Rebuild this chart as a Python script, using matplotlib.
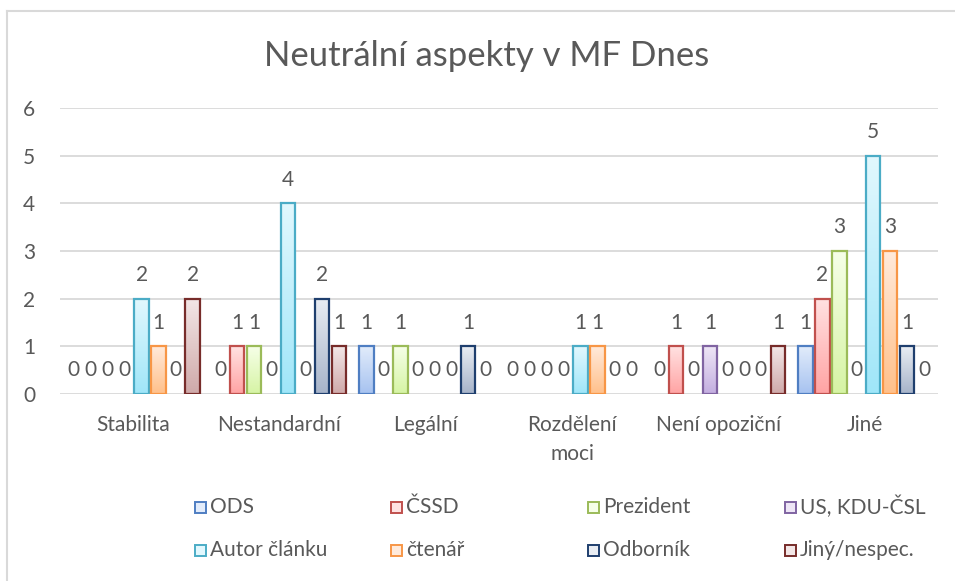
import matplotlib
matplotlib.use("Agg")
import matplotlib.pyplot as plt
import numpy as np
from matplotlib.patches import Rectangle
from matplotlib.colors import LinearSegmentedColormap
from matplotlib.lines import Line2D

categories = ["Stabilita", "Nestandardní", "Legální", "Rozdělení\nmoci", "Není opoziční", "Jiné"]
series_names = ["ODS", "ČSSD", "Prezident", "US, KDU-ČSL", "Autor článku", "čtenář", "Odborník", "Jiný/nespec."]
ods = [0, 0, 1, 0, 0, 1]
cssd = [0, 1, 0, 0, 1, 2]
prezident = [0, 1, 1, 0, 0, 3]
us_kdu = [0, 0, 0, 0, 1, 0]
autor = [2, 4, 0, 1, 0, 5]
ctenar = [1, 0, 0, 1, 0, 3]
odbornik = [0, 2, 1, 0, 0, 1]
jiny = [2, 1, 0, 0, 1, 0]
series_values = [ods, cssd, prezident, us_kdu, autor, ctenar, odbornik, jiny]
yticks = [0, 1, 2, 3, 4, 5, 6]

edge_colors = ["#4F7EC2", "#C0504D", "#9BBB59", "#8064A2", "#4BACC6", "#F79646", "#1F3F6E", "#772C2A"]
grad_top = ["#E2ECFB", "#FFE2E2", "#F6FFE8", "#EEE6F6", "#E2F8FE", "#FFEADB", "#E9EDF3", "#F3E7E7"]
grad_bot = ["#A6C2F0", "#FFA3A3", "#D6F4A4", "#C3AEE0", "#9FE6F9", "#FFC08A", "#A6B3C9", "#CFA9A9"]

text_col = "#595959"
grid_col = "#D9D9D9"
plt.rcParams['font.family'] = ['Lato', 'DejaVu Sans']
FS = 15

W, H = 955, 581
fig = plt.figure(figsize=(W / 100, H / 100), dpi=100)
ax = fig.add_axes([60 / W, 1 - 394 / H, (938 - 60) / W, (394 - 108) / H])
ax.set_xlim(-0.5, len(categories) - 0.5)
ax.set_ylim(0, 6)
ax.set_zorder(1)

# chart border (only left and top visible)
fig.add_artist(Line2D([7 / W, 7 / W], [0, 1 - 11 / H], color="#D9D9D9", lw=1.5, transform=fig.transFigure))
fig.add_artist(Line2D([7 / W, 1], [1 - 11 / H, 1 - 11 / H], color="#D9D9D9", lw=1.5, transform=fig.transFigure))

for y in yticks:
    ax.axhline(y, color=grid_col, lw=1.3, zorder=0)

n = len(series_names)
step = 0.116
width = 0.098
x = np.arange(len(categories))
for i, (name, vals) in enumerate(zip(series_names, series_values)):
    pos = x + (i - (n - 1) / 2) * step
    bars = ax.bar(pos, vals, width=width, facecolor="none", edgecolor=edge_colors[i],
                  linewidth=1.6, zorder=3, label=name)
    cmap = LinearSegmentedColormap.from_list("g%d" % i, [grad_bot[i], grad_top[i]])
    grad = np.linspace(0, 1, 256).reshape(-1, 1)
    for b, v in zip(bars, vals):
        if v > 0:
            bx, by = b.get_x(), b.get_y()
            bw, bh = b.get_width(), b.get_height()
            im = ax.imshow(grad, cmap=cmap, origin="lower", aspect="auto",
                           extent=[bx, bx + bw, by, by + bh], zorder=2, interpolation="bilinear")
            im.set_clip_path(b)
        else:
            b.set_edgecolor("none")
        ax.annotate(str(v), (b.get_x() + b.get_width() / 2, v), xytext=(0, 17),
                    textcoords="offset points", ha="center", va="center",
                    fontsize=FS, color=text_col, zorder=4)

ax.set_xlim(-0.5, len(categories) - 0.5)
ax.set_ylim(0, 6)
for s in ax.spines.values():
    s.set_visible(False)
ax.set_yticks(yticks)
ax.set_yticklabels([str(t) for t in yticks], fontsize=FS, color=text_col)
ax.set_xticks(x)
ax.set_xticklabels(categories, fontsize=FS, color=text_col, linespacing=1.55)
ax.tick_params(axis="x", length=0, pad=15)
ax.tick_params(axis="y", length=0, pad=18)

fig.text(487 / W, 1 - 56 / H, "Neutrální aspekty v MF Dnes", ha="center", va="center",
         fontsize=25, color=text_col)

# legend, 4 columns x 2 rows
col_x = [200, 396, 593, 790]
row_y = [507, 550]
for i, name in enumerate(series_names):
    r, c = divmod(i, 4)
    cx, cy = col_x[c], row_y[r]
    rect = Rectangle(((cx - 5.5) / W, 1 - (cy + 5.5) / H), 11 / W, 11 / H, transform=fig.transFigure,
                     facecolor=grad_top[i], edgecolor=edge_colors[i], lw=1.4)
    fig.add_artist(rect)
    fig.text((cx + 10) / W, 1 - cy / H, name, ha="left", va="center", fontsize=FS, color=text_col)

fig.savefig("out.png", dpi=100)
